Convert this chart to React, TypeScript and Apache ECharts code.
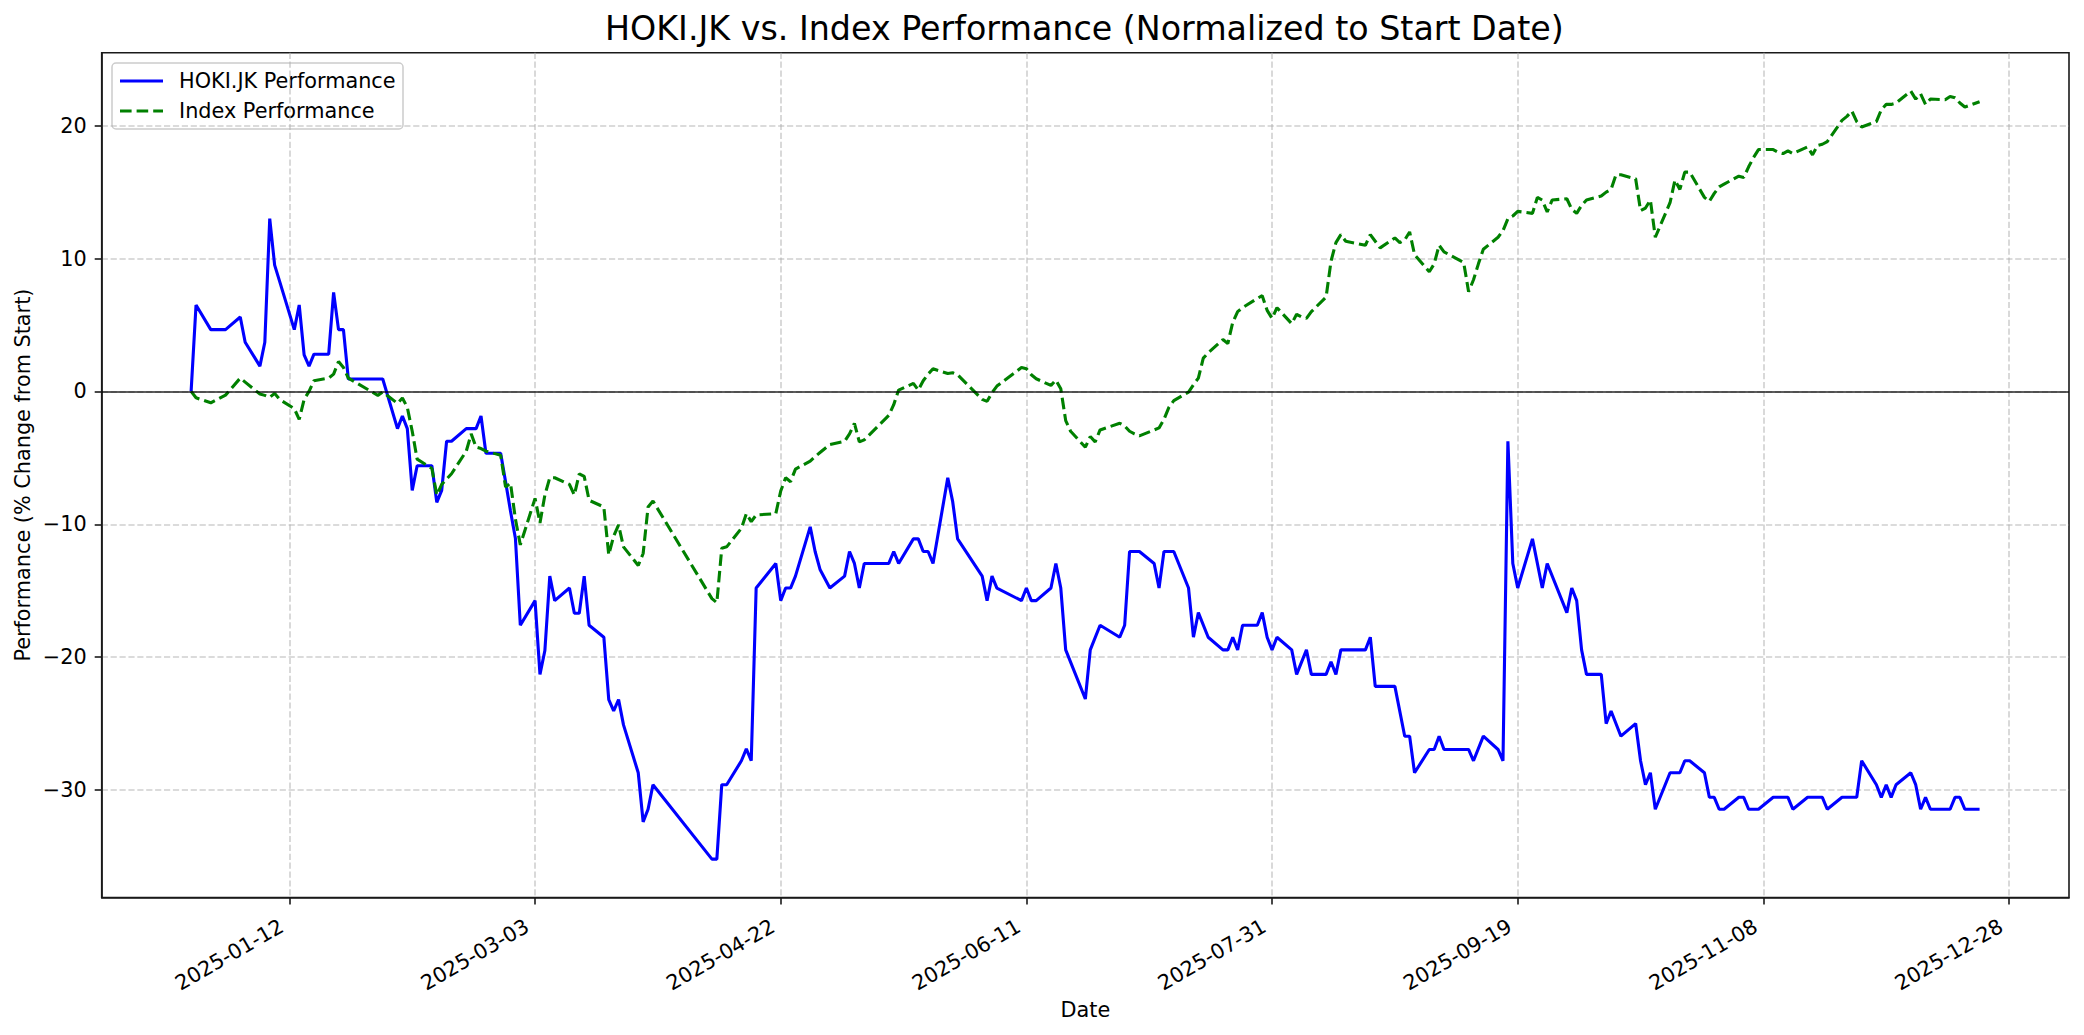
import React, { useEffect, useRef } from "react";
import * as echarts from "echarts";

const TITLE = "HOKI.JK vs. Index Performance (Normalized to Start Date)";
const X_NAME = "Date";
const Y_NAME = "Performance (% Change from Start)";
const SERIES_NAMES = ["HOKI.JK Performance", "Index Performance"];
const X_TICKS = ["2025-01-12", "2025-03-03", "2025-04-22", "2025-06-11", "2025-07-31", "2025-09-19", "2025-11-08", "2025-12-28"];
const Y_TICKS = [-30, -20, -10, 0, 10, 20];

const hokiDates = [
  "2024-12-23", "2024-12-24", "2024-12-27", "2024-12-30", "2025-01-02", "2025-01-03", "2025-01-06", "2025-01-07", "2025-01-08", "2025-01-09", "2025-01-10", "2025-01-13", "2025-01-14", "2025-01-15", "2025-01-16", "2025-01-17", "2025-01-20", "2025-01-21", "2025-01-22", "2025-01-23", "2025-01-24", "2025-01-30", "2025-01-31",
  "2025-02-03", "2025-02-04", "2025-02-05", "2025-02-06", "2025-02-07", "2025-02-10", "2025-02-11", "2025-02-12", "2025-02-13", "2025-02-14", "2025-02-17", "2025-02-18", "2025-02-19", "2025-02-20", "2025-02-21", "2025-02-24", "2025-02-25", "2025-02-26", "2025-02-27", "2025-02-28",
  "2025-03-03", "2025-03-04", "2025-03-05", "2025-03-06", "2025-03-07", "2025-03-10", "2025-03-11", "2025-03-12", "2025-03-13", "2025-03-14", "2025-03-17", "2025-03-18", "2025-03-19", "2025-03-20", "2025-03-21", "2025-03-24", "2025-03-25", "2025-03-26", "2025-03-27",
  "2025-04-08", "2025-04-09", "2025-04-10", "2025-04-11", "2025-04-14", "2025-04-15", "2025-04-16", "2025-04-17", "2025-04-21", "2025-04-22", "2025-04-23", "2025-04-24", "2025-04-25", "2025-04-28", "2025-04-29", "2025-04-30",
  "2025-05-02", "2025-05-05", "2025-05-06", "2025-05-07", "2025-05-08", "2025-05-09", "2025-05-14", "2025-05-15", "2025-05-16", "2025-05-19", "2025-05-20", "2025-05-21", "2025-05-22", "2025-05-23", "2025-05-26", "2025-05-27", "2025-05-28",
  "2025-06-02", "2025-06-03", "2025-06-04", "2025-06-05", "2025-06-10", "2025-06-11", "2025-06-12", "2025-06-13", "2025-06-16", "2025-06-17", "2025-06-18", "2025-06-19", "2025-06-23", "2025-06-24", "2025-06-26", "2025-06-30",
  "2025-07-01", "2025-07-02", "2025-07-03", "2025-07-04", "2025-07-07", "2025-07-08", "2025-07-09", "2025-07-10", "2025-07-11", "2025-07-14", "2025-07-15", "2025-07-16", "2025-07-18", "2025-07-21", "2025-07-22", "2025-07-23", "2025-07-24", "2025-07-25", "2025-07-28", "2025-07-29", "2025-07-30", "2025-07-31",
  "2025-08-01", "2025-08-04", "2025-08-05", "2025-08-07", "2025-08-08", "2025-08-11", "2025-08-12", "2025-08-13", "2025-08-14", "2025-08-19", "2025-08-20", "2025-08-21", "2025-08-25", "2025-08-27", "2025-08-28", "2025-08-29",
  "2025-09-01", "2025-09-02", "2025-09-03", "2025-09-04", "2025-09-09", "2025-09-10", "2025-09-12", "2025-09-15", "2025-09-16", "2025-09-17", "2025-09-18", "2025-09-19", "2025-09-22", "2025-09-24", "2025-09-25", "2025-09-29", "2025-09-30",
  "2025-10-01", "2025-10-02", "2025-10-03", "2025-10-06", "2025-10-07", "2025-10-08", "2025-10-10", "2025-10-13", "2025-10-14", "2025-10-15", "2025-10-16", "2025-10-17", "2025-10-20", "2025-10-22", "2025-10-23", "2025-10-24", "2025-10-27", "2025-10-28", "2025-10-29", "2025-10-30", "2025-10-31",
  "2025-11-03", "2025-11-04", "2025-11-05", "2025-11-07", "2025-11-10", "2025-11-13", "2025-11-14", "2025-11-17", "2025-11-20", "2025-11-21", "2025-11-24", "2025-11-27", "2025-11-28",
  "2025-12-01", "2025-12-02", "2025-12-03", "2025-12-04", "2025-12-05", "2025-12-08", "2025-12-09", "2025-12-10", "2025-12-11", "2025-12-12", "2025-12-16", "2025-12-17", "2025-12-18", "2025-12-19", "2025-12-22",
];
const hokiValues = [
  0, 6.5, 4.65, 4.65, 5.6, 3.7, 1.9, 3.7, 13.0, 9.5, 8.3, 4.65, 6.5, 2.75, 1.9, 2.8, 2.8, 7.45, 4.65, 4.65, 0.93, 0.93, 0.93,
  -2.8, -1.85, -2.8, -7.45, -5.6, -5.6, -8.35, -7.45, -3.75, -3.75, -2.8, -2.8, -2.8, -1.85, -4.65, -4.65, -6.8, -9.0, -11.05, -17.6,
  -15.75, -21.3, -19.5, -13.9, -15.75, -14.8, -16.7, -16.7, -13.9, -17.6, -18.5, -23.2, -24.05, -23.2, -25.1, -28.7, -32.4, -31.45, -29.6,
  -35.2, -35.2, -29.6, -29.6, -27.8, -26.9, -27.8, -14.8, -12.95, -15.75, -14.8, -14.8, -13.9, -10.2, -12.05, -13.4,
  -14.8, -13.9, -12.05, -12.95, -14.8, -12.95, -12.95, -12.05, -12.95, -11.1, -11.1, -12.05, -12.05, -12.95, -6.5, -8.3, -11.1,
  -13.9, -15.75, -13.9, -14.8, -15.75, -14.8, -15.75, -15.75, -14.8, -12.95, -14.8, -19.45, -23.15, -19.45, -17.6, -18.5,
  -17.6, -12.05, -12.05, -12.05, -12.95, -14.8, -12.05, -12.05, -12.05, -14.8, -18.5, -16.65, -18.5, -19.45, -19.45, -18.5, -19.45, -17.6, -17.6, -16.65, -18.5, -19.45,
  -18.5, -19.45, -21.3, -19.45, -21.3, -21.3, -20.35, -21.3, -19.45, -19.45, -18.5, -22.2, -22.2, -25.95, -25.95, -28.7,
  -26.95, -26.95, -25.95, -26.95, -26.95, -27.8, -25.95, -26.95, -27.8, -3.75, -12.95, -14.8, -11.1, -14.8, -12.95, -16.65, -14.8,
  -15.75, -19.45, -21.3, -21.3, -25.0, -24.05, -25.95, -25.0, -27.8, -29.6, -28.7, -31.45, -28.7, -28.7, -27.8, -27.8, -28.7, -30.55, -30.55, -31.45, -31.45,
  -30.55, -30.55, -31.45, -31.45, -30.55, -30.55, -31.45, -30.55, -30.55, -31.45, -30.55, -30.55, -27.8,
  -29.6, -30.55, -29.6, -30.55, -29.6, -28.7, -29.6, -31.45, -30.55, -31.45, -31.45, -30.55, -30.55, -31.45, -31.45,
];

const indexDates = [
  "2024-12-23", "2024-12-24", "2024-12-27", "2024-12-30", "2025-01-02", "2025-01-03", "2025-01-06", "2025-01-07", "2025-01-08", "2025-01-09", "2025-01-10", "2025-01-13", "2025-01-14", "2025-01-15", "2025-01-16", "2025-01-17", "2025-01-20", "2025-01-21", "2025-01-22", "2025-01-23", "2025-01-24", "2025-01-30", "2025-01-31",
  "2025-02-03", "2025-02-04", "2025-02-05", "2025-02-06", "2025-02-07", "2025-02-10", "2025-02-11", "2025-02-12", "2025-02-13", "2025-02-14", "2025-02-17", "2025-02-18", "2025-02-19", "2025-02-20", "2025-02-21", "2025-02-24", "2025-02-25", "2025-02-26", "2025-02-27", "2025-02-28",
  "2025-03-03", "2025-03-04", "2025-03-05", "2025-03-06", "2025-03-07", "2025-03-10", "2025-03-11", "2025-03-12", "2025-03-13", "2025-03-14", "2025-03-17", "2025-03-18", "2025-03-19", "2025-03-20", "2025-03-21", "2025-03-24", "2025-03-25", "2025-03-26", "2025-03-27",
  "2025-04-08", "2025-04-09", "2025-04-10", "2025-04-11", "2025-04-14", "2025-04-15", "2025-04-16", "2025-04-17", "2025-04-21", "2025-04-22", "2025-04-23", "2025-04-24", "2025-04-25", "2025-04-28", "2025-04-29", "2025-04-30",
  "2025-05-02", "2025-05-05", "2025-05-06", "2025-05-07", "2025-05-08", "2025-05-09", "2025-05-14", "2025-05-15", "2025-05-16", "2025-05-19", "2025-05-20", "2025-05-21", "2025-05-22", "2025-05-23", "2025-05-26", "2025-05-27", "2025-05-28",
  "2025-06-02", "2025-06-03", "2025-06-04", "2025-06-05", "2025-06-10", "2025-06-11", "2025-06-12", "2025-06-13", "2025-06-16", "2025-06-17", "2025-06-18", "2025-06-19", "2025-06-20", "2025-06-23", "2025-06-24", "2025-06-25", "2025-06-26", "2025-06-30",
  "2025-07-01", "2025-07-02", "2025-07-03", "2025-07-04", "2025-07-07", "2025-07-08", "2025-07-09", "2025-07-10", "2025-07-11", "2025-07-14", "2025-07-15", "2025-07-16", "2025-07-17", "2025-07-18", "2025-07-21", "2025-07-22", "2025-07-23", "2025-07-24", "2025-07-25", "2025-07-28", "2025-07-29", "2025-07-30", "2025-07-31",
  "2025-08-01", "2025-08-04", "2025-08-05", "2025-08-06", "2025-08-07", "2025-08-08", "2025-08-11", "2025-08-12", "2025-08-13", "2025-08-14", "2025-08-15", "2025-08-19", "2025-08-20", "2025-08-21", "2025-08-22", "2025-08-25", "2025-08-26", "2025-08-27", "2025-08-28", "2025-08-29",
  "2025-09-01", "2025-09-02", "2025-09-03", "2025-09-04", "2025-09-08", "2025-09-09", "2025-09-10", "2025-09-11", "2025-09-12", "2025-09-15", "2025-09-16", "2025-09-17", "2025-09-18", "2025-09-19", "2025-09-22", "2025-09-23", "2025-09-24", "2025-09-25", "2025-09-26", "2025-09-29", "2025-09-30",
  "2025-10-01", "2025-10-02", "2025-10-03", "2025-10-06", "2025-10-07", "2025-10-08", "2025-10-09", "2025-10-10", "2025-10-13", "2025-10-14", "2025-10-15", "2025-10-16", "2025-10-17", "2025-10-20", "2025-10-21", "2025-10-22", "2025-10-23", "2025-10-24", "2025-10-27", "2025-10-28", "2025-10-29", "2025-10-30", "2025-10-31",
  "2025-11-03", "2025-11-04", "2025-11-05", "2025-11-06", "2025-11-07", "2025-11-10", "2025-11-11", "2025-11-12", "2025-11-13", "2025-11-14", "2025-11-17", "2025-11-18", "2025-11-19", "2025-11-20", "2025-11-21", "2025-11-24", "2025-11-25", "2025-11-26", "2025-11-27", "2025-11-28",
  "2025-12-01", "2025-12-02", "2025-12-03", "2025-12-04", "2025-12-05", "2025-12-08", "2025-12-09", "2025-12-10", "2025-12-11", "2025-12-12", "2025-12-15", "2025-12-16", "2025-12-17", "2025-12-18", "2025-12-19", "2025-12-22",
];
const indexValues = [
  0, -0.48, -0.86, -0.28, 1.0, 0.7, -0.2, -0.3, -0.45, -0.15, -0.6, -1.3, -2.1, -0.6, 0.0, 0.8, 1.0, 1.3, 2.25, 1.8, 1.0, -0.3, -0.05,
  -0.9, -0.5, -1.2, -3.0, -5.1, -5.8, -7.8, -7.0, -6.6, -6.2, -4.5, -3.2, -4.2, -4.3, -4.5, -4.8, -7.2, -6.9, -9.6, -11.55,
  -8.05, -9.9, -7.8, -6.5, -6.5, -7.0, -7.8, -6.2, -6.4, -8.2, -8.7, -12.3, -10.9, -10.05, -11.7, -13.1, -12.2, -8.7, -8.25,
  -15.6, -15.9, -11.8, -11.7, -10.3, -9.2, -9.8, -9.3, -9.2, -7.5, -6.5, -6.8, -5.85, -5.25, -4.9, -4.6,
  -4.0, -3.75, -3.2, -2.4, -3.8, -3.65, -1.8, -1.0, 0.1, 0.6, 0.1, 0.8, 1.3, 1.7, 1.35, 1.4, 1.25,
  -0.6, -0.75, -0.1, 0.4, 1.8, 1.7, 1.25, 0.95, 0.45, 0.85, 0.2, -2.2, -3.0, -4.2, -3.4, -3.8, -2.9, -2.4,
  -2.6, -3.0, -3.2, -3.35, -2.9, -2.75, -2.1, -1.2, -0.7, -0.05, 0.5, 1.0, 2.5, 2.9, 3.9, 3.6, 5.2, 6.0, 6.3, 7.0, 7.2, 6.1, 5.5,
  6.3, 5.1, 5.8, 5.6, 5.5, 6.0, 7.1, 9.8, 11.2, 11.8, 11.3, 11.0, 11.8, 11.3, 10.8, 11.55, 11.2, 11.4, 12.0, 10.3,
  9.0, 9.6, 11.0, 10.5, 9.7, 7.5, 8.4, 9.6, 10.7, 11.6, 12.1, 13.0, 13.2, 13.55, 13.4, 14.6, 14.4, 13.5, 14.4, 14.5, 13.7,
  13.4, 14.0, 14.4, 14.7, 15.0, 15.2, 16.3, 16.3, 16.0, 13.6, 13.8, 14.4, 11.6, 14.2, 15.9, 15.2, 16.5, 16.5, 14.6, 14.3, 14.9, 15.4, 15.6,
  16.2, 16.1, 16.9, 17.6, 18.2, 18.2, 18.0, 17.9, 18.1, 17.9, 18.4, 17.8, 18.5, 18.6, 18.8, 20.4, 20.7, 21.1, 20.3, 19.9,
  20.3, 21.2, 21.6, 21.6, 21.7, 22.6, 22.0, 22.4, 21.6, 22.0, 21.95, 22.2, 22.1, 21.7, 21.4, 21.8,
];

const FONT = '"DejaVu Sans", "Noto Sans", sans-serif';
const BLUE = "#0000ff";
const GREEN = "#008000";

const toTs = (s: string) => {
  const [y, m, d] = s.split("-").map(Number);
  return Date.UTC(y, m - 1, d);
};
const pad2 = (n: number) => (n < 10 ? "0" + n : String(n));
const fmtDate = (v: number) => {
  const d = new Date(v);
  return `${d.getUTCFullYear()}-${pad2(d.getUTCMonth() + 1)}-${pad2(d.getUTCDate())}`;
};
const fmtNum = (v: number) => (v < 0 ? "\u2212" + Math.abs(v) : String(v));

export default function App() {
  const ref = useRef<HTMLDivElement>(null);

  useEffect(() => {
    if (!ref.current) return;
    const chart = echarts.init(ref.current, null, { renderer: "svg" });

    const hokiData = hokiDates.map((d, i) => [toTs(d), hokiValues[i]]);
    const indexData = indexDates.map((d, i) => [toTs(d), indexValues[i]]);

    const allTs = [...hokiData, ...indexData].map((p) => p[0] as number);
    const allV = [...hokiValues, ...indexValues];
    const t0 = Math.min(...allTs);
    const t1 = Math.max(...allTs);
    const v0 = Math.min(...allV);
    const v1 = Math.max(...allV);
    const xPad = (t1 - t0) * 0.05;
    const yPad = (v1 - v0) * 0.05;
    const xTickValues = X_TICKS.map(toTs);

    const FS = 20.8;
    const axisText = { fontFamily: FONT, fontSize: FS, color: "#000" };
    const gridLine = { show: true, lineStyle: { color: "#b0b0b0", opacity: 0.6, width: 1.6, type: [6.2, 2.7] } };
    const spine = { color: "#1a1a1a", width: 1.6 };

    const option: any = {
      animation: false,
      backgroundColor: "#ffffff",
      textStyle: { fontFamily: FONT },
      title: {
        text: TITLE,
        left: 605,
        top: 12,
        padding: 0,
        textStyle: { fontFamily: FONT, fontSize: 33.3, fontWeight: "normal", color: "#000" },
      },
      grid: {
        left: 101.7,
        right: 15,
        top: 52.7,
        bottom: 137.5,
        show: true,
        borderColor: "#1a1a1a",
        borderWidth: 1.6,
        backgroundColor: "transparent",
        containLabel: false,
        outerBoundsMode: "none",
      },
      xAxis: {
        type: "value",
        min: t0 - xPad,
        max: t1 + xPad,
        scale: true,
        name: X_NAME,
        nameLocation: "middle",
        nameGap: 102,
        nameMoveOverlap: false,
        nameTextStyle: axisText,
        axisLine: { show: true, onZero: false, lineStyle: spine },
        axisTick: { show: true, length: 7, lineStyle: spine, customValues: xTickValues },
        axisLabel: {
          ...axisText,
          customValues: xTickValues,
          formatter: (v: number) => fmtDate(v),
          rotate: 30,
          margin: 22.5,
          padding: [0, 9, 0, 0],
          hideOverlap: false,
        },
        splitLine: gridLine,
        minorTick: { show: false },
        minorSplitLine: { show: false },
      },
      yAxis: {
        type: "value",
        min: v0 - yPad,
        max: v1 + yPad,
        name: Y_NAME,
        nameLocation: "middle",
        nameGap: 68,
        nameMoveOverlap: false,
        nameTextStyle: axisText,
        axisLine: { show: true, onZero: false, lineStyle: spine },
        axisTick: { show: true, length: 7, lineStyle: spine, customValues: Y_TICKS },
        axisLabel: { ...axisText, customValues: Y_TICKS, formatter: (v: number) => fmtNum(v), margin: 15 },
        splitLine: gridLine,
      },
      series: [
        {
          name: SERIES_NAMES[0],
          type: "line",
          data: hokiData,
          showSymbol: false,
          symbol: "none",
          lineStyle: { color: BLUE, width: 3.1 },
          itemStyle: { color: BLUE },
          z: 3,
          markLine: {
            silent: true,
            symbol: ["none", "none"],
            label: { show: false },
            lineStyle: { color: "#000", width: 1.5, type: "solid", opacity: 0.85 },
            data: [{ yAxis: 0 }],
          },
        },
        {
          name: SERIES_NAMES[1],
          type: "line",
          data: indexData,
          showSymbol: false,
          symbol: "none",
          lineStyle: { color: GREEN, width: 3.1, type: [11.6, 5.0] },
          itemStyle: { color: GREEN },
          z: 3,
        },
      ],
      graphic: [
        {
          type: "group",
          z: 100,
          silent: true,
          children: [
            {
              type: "rect",
              shape: { x: 112, y: 63, width: 291, height: 66, r: 4 },
              style: { fill: "rgba(255,255,255,0.8)", stroke: "#cccccc", lineWidth: 1.5 },
            },
            {
              type: "line",
              shape: { x1: 120, y1: 81, x2: 163, y2: 81 },
              style: { stroke: BLUE, lineWidth: 3.1 },
            },
            {
              type: "line",
              shape: { x1: 120, y1: 111, x2: 163, y2: 111 },
              style: { stroke: GREEN, lineWidth: 3.1, lineDash: [11.6, 5.0] },
            },
            {
              type: "text",
              x: 179,
              y: 81,
              style: {
                text: SERIES_NAMES[0],
                fill: "#000",
                font: `${FS}px ${FONT}`,
                textAlign: "left",
                textVerticalAlign: "middle",
                align: "left",
                verticalAlign: "middle",
              },
            },
            {
              type: "text",
              x: 179,
              y: 111,
              style: {
                text: SERIES_NAMES[1],
                fill: "#000",
                font: `${FS}px ${FONT}`,
                textAlign: "left",
                textVerticalAlign: "middle",
                align: "left",
                verticalAlign: "middle",
              },
            },
          ],
        },
      ],
    };

    chart.setOption(option);
    return () => chart.dispose();
  }, []);

  return (
    <div
      ref={ref}
      style={{ position: "fixed", left: 0, top: 0, width: 2084, height: 1035, background: "#ffffff" }}
    />
  );
}
